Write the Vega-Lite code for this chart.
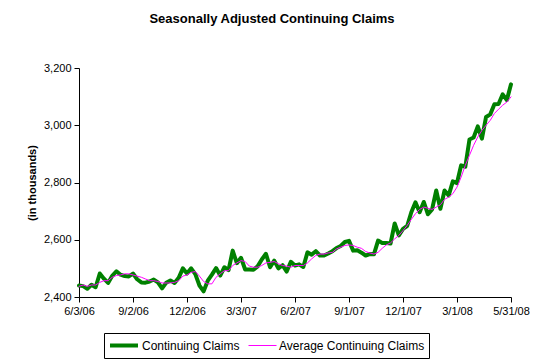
{
  "$schema": "https://vega.github.io/schema/vega-lite/v6.json",
  "width": 432,
  "height": 229,
  "autosize": {"type": "none"},
  "padding": {"left": 79, "top": 68, "right": 34, "bottom": 65},
  "background": "white",
  "title": {"text": "Seasonally Adjusted Continuing Claims", "fontSize": 13, "fontWeight": "bold", "font": "Liberation Sans", "color": "black", "anchor": "middle", "dx": -23, "offset": 36},
  "config": {"view": {"stroke": null}, "font": "Liberation Sans"},
  "data": {"values": [
    {"d":"2006-06-03","claims":2440,"average":2437},
    {"d":"2006-06-10","claims":2438,"average":2442},
    {"d":"2006-06-17","claims":2429,"average":2437},
    {"d":"2006-06-24","claims":2443,"average":2442},
    {"d":"2006-07-01","claims":2434,"average":2442},
    {"d":"2006-07-08","claims":2482,"average":2451},
    {"d":"2006-07-15","claims":2464,"average":2457},
    {"d":"2006-07-22","claims":2449,"average":2457},
    {"d":"2006-07-29","claims":2474,"average":2469},
    {"d":"2006-08-05","claims":2490,"average":2475},
    {"d":"2006-08-12","claims":2478,"average":2477},
    {"d":"2006-08-19","claims":2473,"average":2481},
    {"d":"2006-08-26","claims":2472,"average":2481},
    {"d":"2006-09-02","claims":2482,"average":2477},
    {"d":"2006-09-09","claims":2462,"average":2473},
    {"d":"2006-09-16","claims":2451,"average":2469},
    {"d":"2006-09-23","claims":2450,"average":2463},
    {"d":"2006-09-30","claims":2454,"average":2457},
    {"d":"2006-10-07","claims":2461,"average":2457},
    {"d":"2006-10-14","claims":2451,"average":2454},
    {"d":"2006-10-21","claims":2430,"average":2449},
    {"d":"2006-10-28","claims":2450,"average":2449},
    {"d":"2006-11-04","claims":2458,"average":2449},
    {"d":"2006-11-11","claims":2449,"average":2451},
    {"d":"2006-11-18","claims":2467,"average":2457},
    {"d":"2006-11-25","claims":2500,"average":2473},
    {"d":"2006-12-02","claims":2482,"average":2477},
    {"d":"2006-12-09","claims":2500,"average":2486},
    {"d":"2006-12-16","claims":2480,"average":2489},
    {"d":"2006-12-23","claims":2440,"average":2473},
    {"d":"2006-12-30","claims":2420,"average":2454},
    {"d":"2007-01-06","claims":2457,"average":2446},
    {"d":"2007-01-13","claims":2478,"average":2446},
    {"d":"2007-01-20","claims":2501,"average":2469},
    {"d":"2007-01-27","claims":2475,"average":2481},
    {"d":"2007-02-03","claims":2504,"average":2492},
    {"d":"2007-02-10","claims":2494,"average":2492},
    {"d":"2007-02-17","claims":2562,"average":2510},
    {"d":"2007-02-24","claims":2518,"average":2519},
    {"d":"2007-03-03","claims":2537,"average":2527},
    {"d":"2007-03-10","claims":2496,"average":2524},
    {"d":"2007-03-17","claims":2496,"average":2508},
    {"d":"2007-03-24","claims":2495,"average":2504},
    {"d":"2007-03-31","claims":2507,"average":2504},
    {"d":"2007-04-07","claims":2531,"average":2510},
    {"d":"2007-04-14","claims":2551,"average":2519},
    {"d":"2007-04-21","claims":2504,"average":2521},
    {"d":"2007-04-28","claims":2527,"average":2524},
    {"d":"2007-05-05","claims":2500,"average":2516},
    {"d":"2007-05-12","claims":2511,"average":2510},
    {"d":"2007-05-19","claims":2489,"average":2508},
    {"d":"2007-05-26","claims":2523,"average":2504},
    {"d":"2007-06-02","claims":2510,"average":2510},
    {"d":"2007-06-09","claims":2514,"average":2510},
    {"d":"2007-06-16","claims":2505,"average":2510},
    {"d":"2007-06-23","claims":2556,"average":2519},
    {"d":"2007-06-30","claims":2548,"average":2533},
    {"d":"2007-07-07","claims":2560,"average":2545},
    {"d":"2007-07-14","claims":2545,"average":2550},
    {"d":"2007-07-21","claims":2545,"average":2550},
    {"d":"2007-07-28","claims":2552,"average":2554},
    {"d":"2007-08-04","claims":2560,"average":2556},
    {"d":"2007-08-11","claims":2571,"average":2568},
    {"d":"2007-08-18","claims":2578,"average":2574},
    {"d":"2007-08-25","claims":2592,"average":2580},
    {"d":"2007-09-01","claims":2596,"average":2582},
    {"d":"2007-09-08","claims":2562,"average":2580},
    {"d":"2007-09-15","claims":2563,"average":2574},
    {"d":"2007-09-22","claims":2555,"average":2570},
    {"d":"2007-09-29","claims":2545,"average":2559},
    {"d":"2007-10-06","claims":2550,"average":2554},
    {"d":"2007-10-13","claims":2549,"average":2550},
    {"d":"2007-10-20","claims":2597,"average":2556},
    {"d":"2007-10-27","claims":2589,"average":2570},
    {"d":"2007-11-03","claims":2589,"average":2582},
    {"d":"2007-11-10","claims":2587,"average":2589},
    {"d":"2007-11-17","claims":2657,"average":2603},
    {"d":"2007-11-24","claims":2615,"average":2615},
    {"d":"2007-12-01","claims":2638,"average":2632},
    {"d":"2007-12-08","claims":2648,"average":2650},
    {"d":"2007-12-15","claims":2696,"average":2671},
    {"d":"2007-12-22","claims":2731,"average":2691},
    {"d":"2007-12-29","claims":2696,"average":2706},
    {"d":"2008-01-05","claims":2732,"average":2714},
    {"d":"2008-01-12","claims":2689,"average":2710},
    {"d":"2008-01-19","claims":2706,"average":2706},
    {"d":"2008-01-26","claims":2772,"average":2714},
    {"d":"2008-02-02","claims":2708,"average":2722},
    {"d":"2008-02-09","claims":2772,"average":2741},
    {"d":"2008-02-16","claims":2755,"average":2749},
    {"d":"2008-02-23","claims":2804,"average":2761},
    {"d":"2008-03-01","claims":2798,"average":2784},
    {"d":"2008-03-08","claims":2860,"average":2819},
    {"d":"2008-03-15","claims":2855,"average":2860},
    {"d":"2008-03-22","claims":2950,"average":2895},
    {"d":"2008-03-29","claims":2957,"average":2930},
    {"d":"2008-04-05","claims":2996,"average":2959},
    {"d":"2008-04-12","claims":2953,"average":2982},
    {"d":"2008-04-19","claims":3029,"average":3000},
    {"d":"2008-04-26","claims":3038,"average":3017},
    {"d":"2008-05-03","claims":3073,"average":3041},
    {"d":"2008-05-10","claims":3074,"average":3056},
    {"d":"2008-05-17","claims":3108,"average":3070},
    {"d":"2008-05-24","claims":3088,"average":3081},
    {"d":"2008-05-31","claims":3143,"average":3099}
  ]},
  "transform": [{"fold": ["claims", "average"], "as": ["series", "value"]}],
  "mark": {"type": "line", "interpolate": "linear", "strokeJoin": "round", "strokeCap": "round"},
  "encoding": {
    "x": {
      "field": "d", "type": "temporal",
      "scale": {"type": "utc", "nice": false},
      "axis": {
        "title": null,
        "values": [
          {"year": 2006, "month": 6, "date": 3, "utc": true},
          {"year": 2006, "month": 9, "date": 2, "utc": true},
          {"year": 2006, "month": 12, "date": 2, "utc": true},
          {"year": 2007, "month": 3, "date": 3, "utc": true},
          {"year": 2007, "month": 6, "date": 2, "utc": true},
          {"year": 2007, "month": 9, "date": 1, "utc": true},
          {"year": 2007, "month": 12, "date": 1, "utc": true},
          {"year": 2008, "month": 3, "date": 1, "utc": true},
          {"year": 2008, "month": 5, "date": 31, "utc": true}
        ],
        "labelExpr": "utcFormat(datum.value, '%-m/%-d/%y')",
        "grid": false, "domainColor": "black", "tickColor": "black", "tickSize": 5,
        "labelColor": "black", "labelFontSize": 11, "labelFont": "Liberation Sans",
        "labelPadding": 3, "labelFlush": false, "labelOverlap": false
      }
    },
    "y": {
      "field": "value", "type": "quantitative",
      "scale": {"domain": [2400, 3200], "nice": false, "zero": false},
      "axis": {
        "title": "(in thousands)", "titleFontSize": 11, "titleFontWeight": "bold", "titleColor": "black", "titleFont": "Liberation Sans", "titlePadding": 6,
        "values": [2400, 2600, 2800, 3000, 3200], "labelExpr": "format(datum.value, ',')",
        "grid": false, "domainColor": "black", "tickColor": "black", "tickSize": 5,
        "labelColor": "black", "labelFontSize": 11, "labelFont": "Liberation Sans", "labelPadding": 3
      }
    },
    "color": {
      "field": "series", "type": "nominal",
      "scale": {"domain": ["claims", "average"], "range": ["#008000", "#ff00ff"]},
      "legend": {
        "title": null, "orient": "none", "legendX": 25, "legendY": 265, "direction": "horizontal",
        "strokeColor": "black", "padding": 4, "symbolType": "stroke", "symbolSize": 784, "clipHeight": 17,
        "labelFontSize": 12, "labelFont": "Liberation Sans", "labelColor": "black", "columnPadding": 8, "labelOffset": 2,
        "labelExpr": "datum.label == 'claims' ? 'Continuing Claims' : 'Average Continuing Claims'"
      }
    },
    "strokeWidth": {
      "field": "series", "type": "nominal",
      "scale": {"domain": ["claims", "average"], "range": [4, 1]},
      "legend": {
        "title": null, "orient": "none", "legendX": 25, "legendY": 265, "direction": "horizontal",
        "strokeColor": "black", "padding": 4, "symbolType": "stroke", "symbolSize": 784, "clipHeight": 17,
        "labelFontSize": 12, "labelFont": "Liberation Sans", "labelColor": "black", "columnPadding": 8, "labelOffset": 2,
        "labelExpr": "datum.label == 'claims' ? 'Continuing Claims' : 'Average Continuing Claims'"
      }
    }
  }
}
